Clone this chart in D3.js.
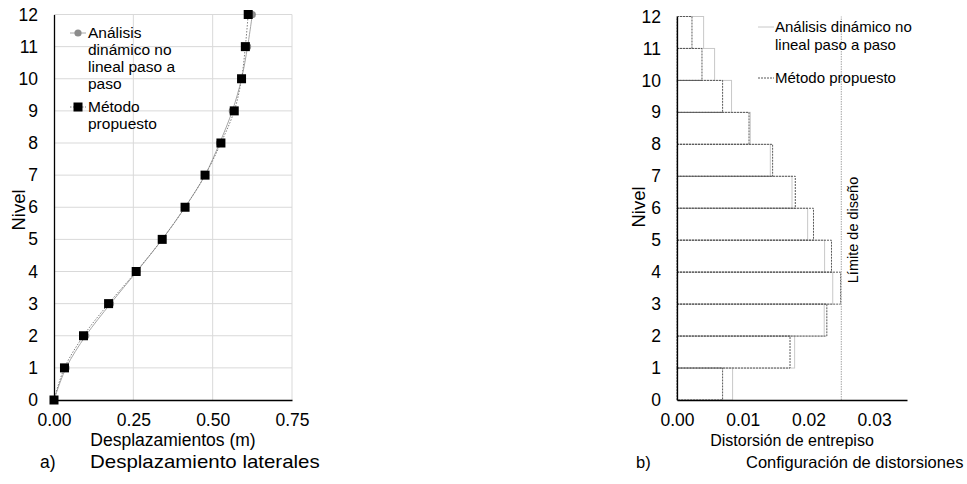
<!DOCTYPE html>
<html><head><meta charset="utf-8">
<script src="https://cdn.jsdelivr.net/npm/d3@7"></script>
<style>
body{margin:0;background:#fff;}
svg{display:block;font-family:"Liberation Sans",Arial,sans-serif;}
</style></head>
<body><svg id="c" width="967" height="484"></svg>
<script>
// ---- data ----
const levels = [0,1,2,3,4,5,6,7,8,9,10,11,12];
const dispAnalisis = [0,0.038,0.100,0.178,0.261,0.341,0.413,0.476,0.522,0.562,0.591,0.610,0.625];
const dispMetodo   = [0,0.033,0.093,0.172,0.259,0.341,0.413,0.476,0.526,0.568,0.591,0.603,0.612];
const xTicksA = [0,0.25,0.5,0.75];

const stories = [1,2,3,4,5,6,7,8,9,10,11,12];
const driftAnalisis = [0.00846,0.0179,0.0224,0.0237,0.02246,0.01988,0.0175,0.0142,0.01115,0.0083,0.00572,0.00405];
const driftMetodo   = [0.00694,0.0172,0.0228,0.0249,0.02351,0.02077,0.0180,0.01455,0.01096,0.00694,0.0038,0.00228];
const driftLimit = 0.025;
const xTicksB = [0,0.01,0.02,0.03];

const svg = d3.select("#c");

// ================= Panel a =================
const xa = d3.scaleLinear([0,0.75],[54,292]);
const ya = d3.scaleLinear([0,12],[400,14.5]);
const ga = svg.append("g");

// grid
ga.append("g").selectAll("line").data(levels.slice(1)).join("line")
  .attr("x1",xa(0)).attr("x2",xa(0.75)).attr("y1",d=>ya(d)).attr("y2",d=>ya(d))
  .attr("stroke","#d9d9d9").attr("stroke-width",1);
ga.append("g").selectAll("line").data(xTicksA.slice(1)).join("line")
  .attr("x1",d=>xa(d)).attr("x2",d=>xa(d)).attr("y1",ya(0)).attr("y2",ya(12))
  .attr("stroke","#d9d9d9").attr("stroke-width",1);

// axes
const axLA = ga.append("g").attr("transform",`translate(${xa(0)},0)`)
  .call(d3.axisLeft(ya).tickValues(levels).tickSize(0).tickSizeOuter(0).tickPadding(16));
const axBA = ga.append("g").attr("transform",`translate(0,${ya(0)})`)
  .call(d3.axisBottom(xa).tickValues(xTicksA).tickFormat(d3.format(".2f")).tickSize(0).tickSizeOuter(0).tickPadding(14));
[axLA,axBA].forEach(a=>{
  a.select(".domain").attr("stroke","#000").attr("stroke-width",1.3);
  a.selectAll("text").attr("font-size",17.5).attr("fill","#000").attr("font-family","Liberation Sans, Arial");
});

// lines
const lineA = d3.line().x(d=>xa(d[0])).y(d=>ya(d[1])).curve(d3.curveCatmullRom);
const ptsAn = dispAnalisis.map((v,i)=>[v,levels[i]]);
const ptsMe = dispMetodo.map((v,i)=>[v,levels[i]]);
ga.append("path").attr("d",lineA(ptsAn)).attr("fill","none").attr("stroke","#a6a6a6").attr("stroke-width",1);
ga.append("path").attr("d",lineA(ptsMe)).attr("fill","none").attr("stroke","#7f7f7f").attr("stroke-width",1).attr("stroke-dasharray","1.5,1.5");
ga.append("g").selectAll("circle").data(ptsAn).join("circle")
  .attr("cx",d=>xa(d[0])).attr("cy",d=>ya(d[1])).attr("r",3.6).attr("fill","#8c8c8c");
ga.append("g").selectAll("rect").data(ptsMe).join("rect")
  .attr("x",d=>xa(d[0])-4.5).attr("y",d=>ya(d[1])-4.5).attr("width",9).attr("height",9).attr("fill","#000");

// legend a
const lgA = ga.append("g");
lgA.append("line").attr("x1",70).attr("x2",86).attr("y1",33).attr("y2",33).attr("stroke","#a6a6a6");
lgA.append("circle").attr("cx",78).attr("cy",33).attr("r",3.6).attr("fill","#8c8c8c");
lgA.append("line").attr("x1",70).attr("x2",86).attr("y1",107).attr("y2",107).attr("stroke","#7f7f7f").attr("stroke-dasharray","1.5,1.5");
lgA.append("rect").attr("x",73.5).attr("y",102.5).attr("width",9).attr("height",9).attr("fill","#000");
const legTextA = [["Análisis",33],["dinámico no",50],["lineal paso a",67],["paso",84],["Método",107],["propuesto",124]];
lgA.selectAll("text").data(legTextA).join("text")
  .attr("x",88).attr("y",d=>d[1]).attr("dy","0.35em").attr("font-size",15.5).attr("fill","#000").text(d=>d[0]);

// titles a
ga.append("text").attr("transform","translate(25,210) rotate(-90)").attr("text-anchor","middle").attr("font-size",18.5).text("Nivel");
ga.append("text").attr("x",(xa(0)+xa(0.75))/2).attr("y",446).attr("text-anchor","middle").attr("font-size",17.5).text("Desplazamientos (m)");
ga.append("text").attr("x",40).attr("y",468).attr("font-size",17.5).text("a)");
ga.append("text").attr("transform","translate(90,468) scale(1.17,1)").attr("font-size",17.5).text("Desplazamiento laterales");

// ================= Panel b =================
const xb = d3.scaleLinear([0,0.035],[677,907]);
const yb = d3.scaleLinear([0,12],[400,16.5]);
const gb = svg.append("g");

// bars (step outlines)
gb.append("g").selectAll("rect").data(stories).join("rect")
  .attr("x",xb(0)).attr("y",(d)=>yb(d)).attr("width",(d,i)=>xb(driftAnalisis[i])-xb(0)).attr("height",d=>yb(d-1)-yb(d))
  .attr("fill","none").attr("stroke","#c8c8c8").attr("stroke-width",1);
gb.append("g").selectAll("rect").data(stories).join("rect")
  .attr("x",xb(0)).attr("y",(d)=>yb(d)).attr("width",(d,i)=>xb(driftMetodo[i])-xb(0)).attr("height",d=>yb(d-1)-yb(d))
  .attr("fill","none").attr("stroke","#595959").attr("stroke-width",1).attr("stroke-dasharray","2,1");

// limit line
gb.append("line").attr("x1",xb(driftLimit)).attr("x2",xb(driftLimit)).attr("y1",yb(0)).attr("y2",yb(12))
  .attr("stroke","#a6a6a6").attr("stroke-width",1).attr("stroke-dasharray","1.5,1");
gb.append("text").attr("transform",`translate(${xb(driftLimit)+17},230) rotate(-90)`).attr("text-anchor","middle")
  .attr("font-size",14.5).text("Límite de diseño");

// axes
const axLB = gb.append("g").attr("transform",`translate(${xb(0)},0)`)
  .call(d3.axisLeft(yb).tickValues(levels).tickSize(0).tickSizeOuter(0).tickPadding(16));
const axBB = gb.append("g").attr("transform",`translate(0,${yb(0)})`)
  .call(d3.axisBottom(xb).tickValues(xTicksB).tickFormat(d3.format(".2f")).tickSize(0).tickSizeOuter(0).tickPadding(14));
[axLB,axBB].forEach(a=>{
  a.select(".domain").attr("stroke","#000").attr("stroke-width",1.3);
  a.selectAll("text").attr("font-size",17.5).attr("fill","#000").attr("font-family","Liberation Sans, Arial");
});

// legend b
const lgB = gb.append("g");
lgB.append("line").attr("x1",758).attr("x2",774).attr("y1",27).attr("y2",27).attr("stroke","#c8c8c8");
lgB.append("line").attr("x1",758).attr("x2",774).attr("y1",78).attr("y2",78).attr("stroke","#595959").attr("stroke-dasharray","2,1");
const legTextB = [["Análisis dinámico no",27],["lineal paso a paso",45],["Método propuesto",78]];
lgB.selectAll("text").data(legTextB).join("text")
  .attr("x",775).attr("y",d=>d[1]).attr("dy","0.35em").attr("font-size",15).attr("fill","#000").text(d=>d[0]);

// titles b
gb.append("text").attr("transform","translate(645,207) rotate(-90)").attr("text-anchor","middle").attr("font-size",18.5).text("Nivel");
gb.append("text").attr("x",(xb(0)+xb(0.035))/2).attr("y",446).attr("text-anchor","middle").attr("font-size",16).text("Distorsión de entrepiso");
gb.append("text").attr("x",636).attr("y",468).attr("font-size",16.5).text("b)");
gb.append("text").attr("x",746).attr("y",468).attr("font-size",16.5).text("Configuración de distorsiones");
</script></body></html>
